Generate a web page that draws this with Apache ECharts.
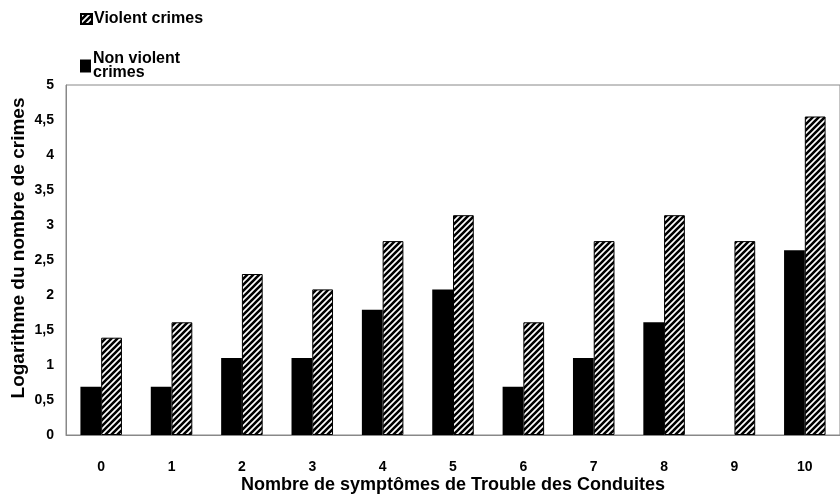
<!DOCTYPE html>
<html>
<head>
<meta charset="utf-8">
<script src="https://cdn.jsdelivr.net/npm/echarts@6/dist/echarts.min.js"></script>
<style>
  html, body { margin: 0; padding: 0; background: #fff; }
  #container { width: 840px; height: 498px; }
</style>
</head>
<body>
<div id="container"></div>
<script>
var categories = ['0', '1', '2', '3', '4', '5', '6', '7', '8', '9', '10'];
var nonViolent = [0.69, 0.69, 1.10, 1.10, 1.79, 2.08, 0.69, 1.10, 1.61, 0, 2.64];
var violent = [1.39, 1.61, 2.30, 2.08, 2.77, 3.14, 1.61, 2.77, 3.14, 2.77, 4.55];
var yTicks = [0, 0.5, 1, 1.5, 2, 2.5, 3, 3.5, 4, 4.5, 5];

var fontFam = '"Liberation Sans", Arial, sans-serif';

// diagonal hatch for violent crimes
function makeHatch() {
    var c = document.createElement('canvas');
    c.width = 6;
    c.height = 6;
    var ctx = c.getContext('2d');
    ctx.fillStyle = '#fff';
    ctx.fillRect(0, 0, 6, 6);
    ctx.strokeStyle = '#000';
    ctx.lineWidth = 2.6;
    ctx.beginPath();
    ctx.moveTo(-1, 7); ctx.lineTo(7, -1);
    ctx.moveTo(-4, 4); ctx.lineTo(4, -4);
    ctx.moveTo(2, 10); ctx.lineTo(10, 2);
    ctx.stroke();
    return c;
}
var hatch = { image: makeHatch(), repeat: 'repeat' };

var dom = document.getElementById('container');
var myChart = echarts.init(dom);

var option = {
    animation: false,
    backgroundColor: '#fff',
    textStyle: { fontFamily: fontFam },
    grid: {
        left: 66,
        right: 0,
        top: 85,
        bottom: 63,
        outerBoundsMode: 'none',
        show: true,
        borderColor: '#888',
        borderWidth: 1
    },
    legend: [{
        data: ['Violent crimes'],
        icon: 'rect',
        left: 75,
        top: 6,
        itemWidth: 11,
        itemHeight: 10,
        textStyle: { fontFamily: fontFam, fontWeight: 'bold', fontSize: 16, color: '#000', padding: [0, 0, 0, -3] }
    }, {
        data: ['Non violent\ncrimes'],
        icon: 'rect',
        left: 75,
        top: 46,
        itemWidth: 11,
        itemHeight: 13,
        textStyle: { fontFamily: fontFam, fontWeight: 'bold', fontSize: 16, color: '#000', lineHeight: 14, padding: [0, 0, 0, -3] }
    }],
    xAxis: {
        type: 'category',
        data: categories,
        name: 'Nombre de symptômes de Trouble des Conduites',
        nameLocation: 'middle',
        nameGap: 41,
        nameMoveOverlap: false,
        nameTextStyle: { fontFamily: fontFam, fontWeight: 'bold', fontSize: 18, color: '#000' },
        axisTick: { show: false },
        axisLine: { lineStyle: { color: '#888', width: 1 } },
        axisLabel: { fontFamily: fontFam, fontWeight: 'bold', fontSize: 14, color: '#000', margin: 25 }
    },
    yAxis: {
        type: 'value',
        min: 0,
        max: 5,
        interval: 0.5,
        name: 'Logarithme du nombre de crimes',
        nameLocation: 'middle',
        nameGap: 38,
        nameMoveOverlap: false,
        nameTextStyle: { fontFamily: fontFam, fontWeight: 'bold', fontSize: 19, color: '#000', padding: [0, 0, 0, 24] },
        splitLine: { show: false },
        axisTick: { show: false },
        axisLine: { show: true, lineStyle: { color: '#888', width: 1 } },
        axisLabel: {
            fontFamily: fontFam, fontWeight: 'bold', fontSize: 14, color: '#000', margin: 12,
            formatter: function (v) { return yTicks.indexOf(v) >= 0 ? String(v).replace('.', ',') : ''; }
        }
    },
    series: [{
        name: 'Non violent\ncrimes',
        type: 'bar',
        data: nonViolent,
        barGap: '0%',
        barCategoryGap: '41%',
        itemStyle: { color: '#000', borderWidth: 0 }
    }, {
        name: 'Violent crimes',
        type: 'bar',
        data: violent,
        itemStyle: { color: hatch, borderColor: '#000', borderWidth: 1 }
    }]
};

myChart.setOption(option);
</script>
</body>
</html>
